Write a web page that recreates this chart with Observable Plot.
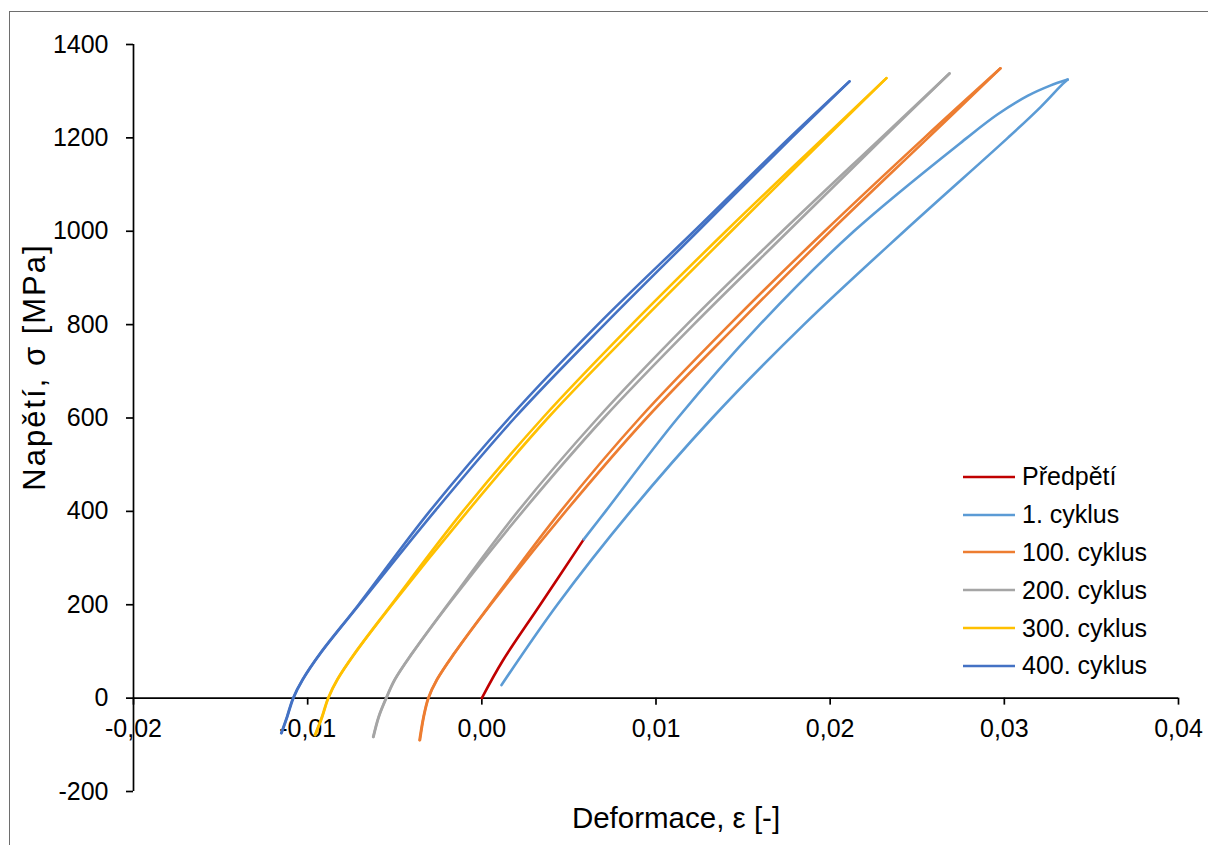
<!DOCTYPE html>
<html>
<head>
<meta charset="utf-8">
<script src="https://cdn.jsdelivr.net/npm/d3@7"></script>
<script src="https://cdn.jsdelivr.net/npm/@observablehq/plot@0.6"></script>
<style>
  html, body { margin: 0; padding: 0; background: #fff; overflow: hidden; }
  #wrap { position: relative; width: 1208px; height: 845px; overflow: hidden; font-family: "Liberation Sans", Arial, sans-serif; }
  #frame { position: absolute; left: 9px; top: 11px; width: 1400px; height: 1000px; border: 1.5px solid #6e6e6e; box-sizing: border-box; }
  #chart { position: absolute; left: 0; top: 0; }
  .title { position: absolute; color: #000; white-space: nowrap; }
  #legend { position: absolute; left: 963px; top: 458px; font-size: 25px; color: #000; }
  .item { display: flex; align-items: center; height: 37.8px; }
  .item svg { margin-right: 7px; }
</style>
</head>
<body>
<div id="wrap">
  <div id="frame"></div>
  <div id="chart"></div>
  <div class="title" id="ytitle">Napětí, σ [MPa]</div>
  <div class="title" id="xtitle">Deformace, ε [-]</div>
  <div id="legend"></div>
</div>
<script>
// ---- data ----
const seriesNames = ["Předpětí", "1. cyklus", "100. cyklus", "200. cyklus", "300. cyklus", "400. cyklus"];
const seriesColors = ["#C00000", "#5B9BD5", "#ED7D31", "#A5A5A5", "#FFC000", "#4472C4"];
const xTicks = [-0.02, -0.01, 0, 0.01, 0.02, 0.03, 0.04];
const yTicks = [-200, 0, 200, 400, 600, 800, 1000, 1200, 1400];

// Předpětí
const strainPre = [0, 0.0012, 0.00335, 0.00585];
const stressPre = [0, 80, 200, 340];

// 1. cyklus
const strainC1 = [0.00585, 0.0071, 0.01125, 0.01596, 0.02136, 0.02785, 0.02960, 0.03133, 0.03263, 0.03364, 0.03334, 0.03208, 0.03020, 0.02425, 0.01849, 0.01323, 0.00854, 0.00433, 0.00113];
const stressC1 = [340, 400, 600, 800, 1000, 1200, 1250, 1290, 1312, 1325, 1315, 1266, 1200, 1000, 800, 600, 400, 200, 28];

// 100. cyklus
const strainC100 = [-0.00355, -0.00333, -0.00306, -0.00256, -0.00157, 0.00050, 0.00481, 0.00946, 0.01466, 0.02002, 0.02562, 0.02978, 0.02540, 0.01968, 0.01422, 0.00907, 0.00452, 0.00046, -0.00159, -0.00258, -0.00308, -0.00335, -0.00358];
const stressC100 = [-90, -40, 0, 40, 96, 200, 400, 600, 800, 1000, 1200, 1349, 1200, 1000, 800, 600, 400, 200, 96, 40, 0, -40, -90];

// 200. cyklus
const strainC200 = [-0.00622, -0.00591, -0.00548, -0.00498, -0.00399, -0.00193, 0.00235, 0.00700, 0.01216, 0.01759, 0.02305, 0.02685, 0.02293, 0.01725, 0.01177, 0.00666, 0.00207, -0.00197, -0.00401, -0.00500, -0.00550, -0.00593, -0.00624];
const stressC200 = [-83, -40, 0, 40, 96, 200, 400, 600, 800, 1000, 1200, 1338, 1200, 1000, 800, 600, 400, 200, 96, 40, 0, -40, -83];

// 300. cyklus
const strainC300 = [-0.00956, -0.00916, -0.00881, -0.00828, -0.00728, -0.00516, -0.00082, 0.00379, 0.00896, 0.01432, 0.01974, 0.02323, 0.01962, 0.01401, 0.00860, 0.00349, -0.00109, -0.00520, -0.00730, -0.00830, -0.00883, -0.00918, -0.00958];
const stressC300 = [-79, -40, 0, 40, 96, 200, 400, 600, 800, 1000, 1200, 1328, 1200, 1000, 800, 600, 400, 200, 96, 40, 0, -40, -79];

// 400. cyklus
const strainC400 = [-0.01150, -0.01117, -0.01082, -0.01027, -0.00926, -0.00704, -0.00271, 0.00188, 0.00703, 0.01240, 0.01778, 0.02111, 0.01766, 0.01218, 0.00666, 0.00157, -0.00300, -0.00708, -0.00928, -0.01029, -0.01084, -0.01119, -0.01152];
const stressC400 = [-75, -40, 0, 40, 96, 200, 400, 600, 800, 1000, 1200, 1321, 1200, 1000, 800, 600, 400, 200, 96, 40, 0, -40, -75];

const strains = [strainPre, strainC1, strainC100, strainC200, strainC300, strainC400];
const stresses = [stressPre, stressC1, stressC100, stressC200, stressC300, stressC400];

// split each series into a rising and a falling branch at its peak stress
const rows = [];
seriesNames.forEach((name, i) => {
  const s = stresses[i];
  const peak = s.indexOf(Math.max(...s));
  strains[i].forEach((e, j) => {
    if (j <= peak) rows.push({series: name, branch: name + "|up", strain: e, stress: s[j]});
    if (j >= peak && peak < s.length - 1) rows.push({series: name, branch: name + "|down", strain: e, stress: s[j]});
  });
});

// ---- layout ----
const W = 1208, H = 845;
const mL = 133, mR = 30, mT = 44, mB = 54;
const xDomain = [-0.02, 0.04], yDomain = [-200, 1400];
const innerH = H - mT - mB;
const zeroShift = -((0 - yDomain[0]) / (yDomain[1] - yDomain[0])) * innerH;
const fmtX = d => d.toFixed(2).replace(".", ",");

const chart = Plot.plot({
  width: W, height: H,
  marginLeft: mL, marginRight: mR, marginTop: mT, marginBottom: mB,
  style: {fontFamily: "'Liberation Sans', Arial, sans-serif", fontSize: "25px", color: "#000", background: "transparent", overflow: "visible"},
  x: {domain: xDomain, label: null},
  y: {domain: yDomain, label: null},
  color: {domain: seriesNames, range: seriesColors},
  marks: [
    Plot.axisY({ticks: yTicks, tickFormat: d => String(d), tickSize: 7, tickPadding: 18, strokeWidth: 1.7, label: null}),
    Plot.axisX({ticks: xTicks, tickFormat: fmtX, tickSize: 7, tickPadding: 14, strokeWidth: 1.7, dy: zeroShift, label: null}),
    Plot.ruleX([xDomain[0]], {strokeWidth: 1.7}),
    Plot.ruleY([0], {strokeWidth: 1.7}),
    Plot.line(rows, {x: "strain", y: "stress", z: "branch", stroke: "series", strokeWidth: 2.6, curve: "catmull-rom", strokeLinejoin: "round"})
  ]
});
document.getElementById("chart").appendChild(chart);

// titles
const yt = document.getElementById("ytitle");
yt.style.fontSize = "31px";
yt.style.letterSpacing = "2px";
yt.style.left = "35px"; yt.style.top = "367px";
yt.style.transform = "translate(-50%, -50%) rotate(-90deg)";
const xt = document.getElementById("xtitle");
xt.style.fontSize = "29.5px";
xt.style.left = "676px"; xt.style.top = "818px";
xt.style.transform = "translate(-50%, -50%)";

// legend
const lg = document.getElementById("legend");
seriesNames.forEach((name, i) => {
  const it = document.createElement("div");
  it.className = "item";
  it.innerHTML = `<svg width="52" height="6"><line x1="0" x2="52" y1="3" y2="3" stroke="${seriesColors[i]}" stroke-width="2.7"/></svg><span>${name}</span>`;
  lg.appendChild(it);
});
</script>
</body>
</html>
